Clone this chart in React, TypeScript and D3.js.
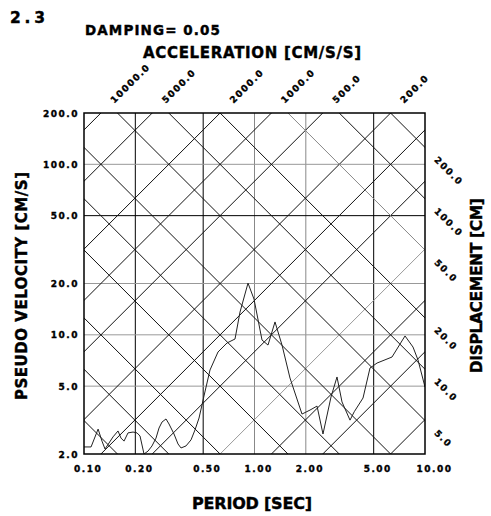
import React from "react";
import * as d3 from "d3";

// ---- data ----
const PERIODS = [0.100, 0.110, 0.121, 0.1275, 0.1328, 0.1402, 0.1480, 0.1583, 0.1648, 0.1717, 0.1812, 0.1939, 0.2046, 0.2131, 0.2249, 0.2374, 0.2505, 0.2645, 0.2754, 0.2868, 0.3027, 0.3152, 0.3372, 0.3559, 0.3707, 0.3965, 0.4243, 0.4478, 0.4727, 0.4921, 0.5056, 0.5483, 0.6108, 0.6900, 0.7686, 0.8222, 0.9161, 0.9934, 1.107, 1.200, 1.319, 1.450, 1.615, 1.899, 2.116, 2.327, 2.522, 2.810, 3.047, 3.260, 3.632, 3.847, 4.330, 4.758, 5.231, 6.405, 7.635, 8.505, 9.099, 10.0];
const VELOCITIES = [2.20, 2.20, 2.80, 2.38, 2.14, 2.32, 2.52, 2.73, 2.48, 2.38, 2.66, 2.69, 2.66, 2.55, 2.00, 2.08, 2.23, 2.48, 2.84, 3.08, 3.21, 3.00, 2.62, 2.29, 2.17, 2.23, 2.42, 2.77, 3.25, 3.88, 4.38, 6.22, 7.93, 8.96, 9.45, 13.6, 20.1, 16.2, 9.32, 8.71, 11.9, 8.71, 5.58, 3.43, 3.62, 3.82, 2.62, 4.32, 5.66, 4.04, 3.16, 3.54, 4.26, 6.39, 6.83, 7.41, 9.85, 8.48, 7.12, 4.94];

const X_TICKS = [0.1, 0.2, 0.5, 1, 2, 5, 10];
const X_TICK_LABELS = ["0.10", "0.20", "0.50", "1.00", "2.00", "5.00", "10.00"];
const Y_TICKS = [2, 5, 10, 20, 50, 100, 200];
const Y_TICK_LABELS = ["2.0", "5.0", "10.0", "20.0", "50.0", "100.0", "200.0"];

const ACCEL_LINES = [2, 5, 10, 20, 50, 100, 200, 500, 1000, 2000, 5000, 10000];
const DISP_LINES = [0.05, 0.1, 0.2, 0.5, 1, 2, 5, 10, 20, 50, 100, 200];
const ACCEL_LABELED = [10000, 5000, 2000, 1000, 500, 200];
const ACCEL_LABEL_TEXT = ["10000.0", "5000.0", "2000.0", "1000.0", "500.0", "200.0"];
const DISP_LABELED = [200, 100, 50, 20, 10, 5];
const DISP_LABEL_TEXT = ["200.0", "100.0", "50.0", "20.0", "10.0", "5.0"];

const TITLE_NUM = "2.3";
const DAMPING = "DAMPING= 0.05";
const ACC_TITLE = "ACCELERATION [CM/S/S]";
const X_TITLE = "PERIOD [SEC]";
const Y_TITLE = "PSEUDO VELOCITY [CM/S]";
const D_TITLE = "DISPLACEMENT [CM]";

// ---- styles ----
const FONT = "'DejaVu Sans', sans-serif";
const DARK_V = new Set([0.2, 0.5, 5]);
const DARK_H = new Set([50]);
const GRAY_ACC = new Set([20]);
const GRAY_DISP = new Set([50]);

export default function App() {
  const L = 84, R = 425, T = 113, B = 454;
  const x = d3.scaleLog().domain([0.1, 10]).range([L, R]);
  const y = d3.scaleLog().domain([2, 200]).range([B, T]);
  const TWO_PI = 2 * Math.PI;

  const lineGen = d3
    .line<[number, number]>()
    .x((d) => x(d[0]))
    .y((d) => y(d[1]));

  const accPath = (A: number) =>
    lineGen([
      [0.01, (A * 0.01) / TWO_PI],
      [100, (A * 100) / TWO_PI],
    ]);
  const dispPath = (D: number) =>
    lineGen([
      [0.01, (TWO_PI * D) / 0.01],
      [100, (TWO_PI * D) / 100],
    ]);

  const dataPts: [number, number][] = PERIODS.map((p, i) => [p, VELOCITIES[i]]);
  const s = Math.SQRT1_2;
  const tickStyle = {
    fontFamily: FONT, fontWeight: 700, fontSize: 9, letterSpacing: 1.5,
    stroke: "#000", strokeWidth: 0.35,
  } as const;
  const titleStyle = (size: number) => ({
    fontFamily: FONT, fontWeight: 700, fontSize: size, stroke: "#000", strokeWidth: 0.4,
  });

  return (
    <svg width={491} height={516} style={{ position: "absolute", left: 0, top: 0, background: "#fff" }}>
      <defs>
        <clipPath id="plotclip">
          <rect x={L} y={T} width={R - L} height={B - T} />
        </clipPath>
      </defs>

      {/* grid */}
      <g clipPath="url(#plotclip)">
        {X_TICKS.slice(1, -1).map((t) => (
          <line key={"v" + t} x1={x(t)} x2={x(t)} y1={T} y2={B}
            stroke={DARK_V.has(t) ? "#000" : "#888"} strokeWidth={1} />
        ))}
        {Y_TICKS.slice(1, -1).map((v) => (
          <line key={"h" + v} x1={L} x2={R} y1={y(v)} y2={y(v)}
            stroke={DARK_H.has(v) ? "#000" : "#999"} strokeWidth={1} />
        ))}
        {ACCEL_LINES.map((A) => (
          <path key={"a" + A} d={accPath(A) || ""} fill="none"
            stroke={GRAY_ACC.has(A) ? "#999" : "#111"} strokeWidth={1} />
        ))}
        {DISP_LINES.map((D) => (
          <path key={"d" + D} d={dispPath(D) || ""} fill="none"
            stroke={GRAY_DISP.has(D) ? "#888" : "#111"} strokeWidth={1} />
        ))}
        <path d={lineGen(dataPts) || ""} fill="none" stroke="#222" strokeWidth={1} />
      </g>

      {/* frame */}
      <rect x={L} y={T} width={R - L} height={B - T} fill="none" stroke="#000" strokeWidth={1.5} />

      {/* x tick labels */}
      {X_TICKS.map((t, i) => (
        <text key={"xl" + t} x={x(t) - 10 + (i === X_TICKS.length - 1 ? 1.5 : 0)} y={472} style={tickStyle}>
          {X_TICK_LABELS[i]}
        </text>
      ))}
      {/* y tick labels */}
      {Y_TICKS.map((v, i) => (
        <text key={"yl" + v} x={79} y={y(v) + 3.5} textAnchor="end" style={tickStyle}>
          {Y_TICK_LABELS[i]}
        </text>
      ))}

      {/* acceleration labels on top */}
      {ACCEL_LABELED.map((A, i) => {
        const tt = (TWO_PI * 200) / A;
        const px = x(tt) + 16 * s;
        const py = T - 16 * s;
        return (
          <text key={"al" + A} x={px} y={py} dominantBaseline="central"
            transform={`rotate(-45 ${px} ${py})`} style={tickStyle}>
            {ACCEL_LABEL_TEXT[i]}
          </text>
        );
      })}
      {/* displacement labels on right */}
      {DISP_LABELED.map((D, i) => {
        const vr = (TWO_PI * D) / 10;
        const px = R + 15.5 * s;
        const py = y(vr) + 15.5 * s;
        return (
          <text key={"dl" + D} x={px} y={py} dominantBaseline="central"
            transform={`rotate(45 ${px} ${py})`} style={tickStyle}>
            {DISP_LABEL_TEXT[i]}
          </text>
        );
      })}

      {/* titles */}
      <text x={10} y={23} textLength={35} lengthAdjust="spacing" style={titleStyle(15.5)}>{TITLE_NUM}</text>
      <text x={85} y={35} textLength={135} lengthAdjust="spacing" style={titleStyle(13.5)}>{DAMPING}</text>
      <text x={143} y={57.5} textLength={218} lengthAdjust="spacing" style={titleStyle(15)}>{ACC_TITLE}</text>
      <text x={192} y={509} textLength={120} lengthAdjust="spacing" style={titleStyle(16)}>{X_TITLE}</text>
      <text x={27} y={286} textAnchor="middle" textLength={228} lengthAdjust="spacing"
        transform="rotate(-90 27 286)" style={titleStyle(15)}>{Y_TITLE}</text>
      <text x={482.5} y={285.7} textAnchor="middle" textLength={175} lengthAdjust="spacing"
        transform="rotate(-90 482.5 285.7)" style={titleStyle(15.5)}>{D_TITLE}</text>
    </svg>
  );
}
